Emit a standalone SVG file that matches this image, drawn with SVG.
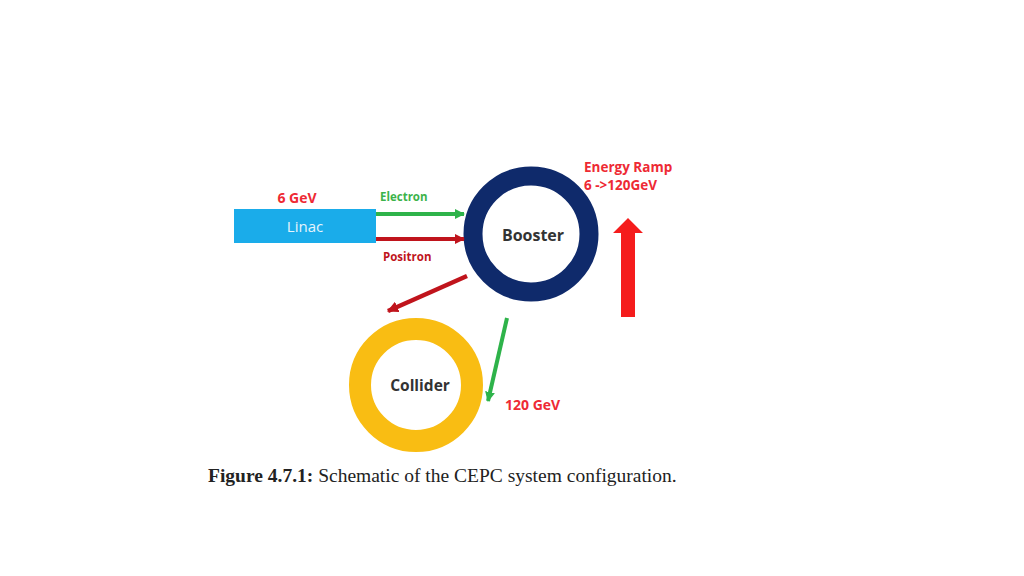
<svg xmlns="http://www.w3.org/2000/svg" width="1024" height="576" viewBox="0 0 1024 576">
<defs>
<style>
.t{font-family:"Open Sans","Liberation Sans",sans-serif;font-weight:bold;}
.red{fill:#ee2a34;}
.dred{fill:#c0141c;}
.grn{fill:#3cb34a;}
.cap{font-family:"Liberation Serif","Times New Roman",serif;font-size:19.5px;fill:#222;}
</style>
<marker id="hg" viewBox="0 0 10 10" refX="9" refY="5" markerWidth="2.5" markerHeight="2.5" orient="auto"><path d="M0,0 L10,5 L0,10 Z" fill="#2eb34a"/></marker>
<marker id="hr" viewBox="0 0 10 10" refX="9" refY="5" markerWidth="2.5" markerHeight="2.5" orient="auto"><path d="M0,0 L10,5 L0,10 Z" fill="#c0141c"/></marker>
</defs>
<rect width="1024" height="576" fill="#ffffff"/>
<g id="linac">
<rect x="234" y="209" width="142" height="34" fill="#1aacea"/>
<text x="305" y="232" font-family="Open Sans, Liberation Sans, sans-serif" font-size="15" fill="#e6f4fc" text-anchor="middle">Linac</text>
<text x="297" y="203" class="t red" font-size="14" text-anchor="middle">6 GeV</text>
</g>
<g id="booster">
<circle cx="531" cy="234" r="58" fill="none" stroke="#0f2a6b" stroke-width="19"/>
<text x="533" y="241" class="t" font-size="16" fill="#333" text-anchor="middle">Booster</text>
</g>
<g id="collider">
<circle cx="416" cy="385" r="56" fill="none" stroke="#f9bd13" stroke-width="22"/>
<text x="420" y="391" class="t" font-size="15.5" fill="#333" text-anchor="middle">Collider</text>
</g>
<g id="ramp">
<path d="M621,317 L621,233 L613,233 L628,218 L643,233 L635,233 L635,317 Z" fill="#f51c1c"/>
<text x="584" y="172" class="t red" font-size="13.5">Energy Ramp</text>
<text x="584" y="190" class="t red" font-size="13.5">6 -&gt;120GeV</text>
</g>
<g id="connectors">
<line x1="376" y1="214" x2="464" y2="214" stroke="#2eb34a" stroke-width="4" marker-end="url(#hg)"/>
<line x1="376" y1="239" x2="464" y2="239" stroke="#c0141c" stroke-width="4" marker-end="url(#hr)"/>
<line x1="467" y1="276" x2="388" y2="311" stroke="#c0141c" stroke-width="4.5" marker-end="url(#hr)"/>
<line x1="507" y1="318" x2="488" y2="401" stroke="#2eb34a" stroke-width="4" marker-end="url(#hg)"/>
<text x="380" y="201" class="t grn" font-size="11.5">Electron</text>
<text x="383" y="261" class="t dred" font-size="11.5">Positron</text>
<text x="505" y="410" class="t red" font-size="14">120 GeV</text>
</g>
<text x="208" y="482" class="cap"><tspan font-weight="bold">Figure 4.7.1:</tspan> Schematic of the CEPC system configuration.</text>
</svg>
